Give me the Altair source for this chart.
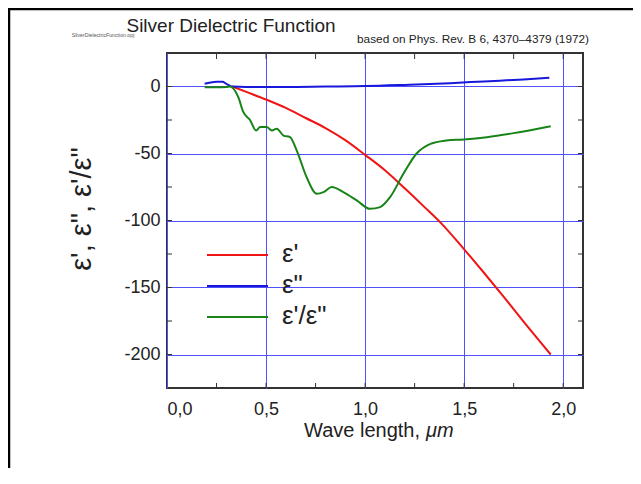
import altair as alt
import pandas as pd

# ---- data ----
series_names = ["ε'", "ε\"", "ε'/ε\""]
series_colors = ["#f01414", "#1818dc", "#188418"]

eps1_x = [0.33, 0.4, 0.5, 0.6, 0.7, 0.8, 0.9, 1.0, 1.1, 1.2, 1.3, 1.387, 1.5, 1.6, 1.7, 1.8, 1.937]
eps1_y = [0, -4, -9.7, -16, -23.5, -31, -40, -51, -62.5, -76, -90, -102.5, -121.5, -139, -157, -175.5, -200]

eps2_x = [0.19, 0.22, 0.25, 0.28, 0.3, 0.33, 0.4, 0.6, 0.8, 1.0, 1.2, 1.43, 1.6, 1.8, 1.93]
eps2_y = [2, 3, 3.5, 3.5, 2, 0, -0.3, -0.3, 0, 0.3, 1.2, 2.5, 3.8, 5.3, 6.5]

ratio_x = [0.19, 0.25, 0.3, 0.318, 0.36, 0.385, 0.419, 0.45, 0.47, 0.503, 0.529, 0.554, 0.588,
           0.621, 0.655, 0.705, 0.756, 0.79, 0.832, 0.89, 0.958, 1.025, 1.076, 1.126, 1.194,
           1.26, 1.33, 1.41, 1.497, 1.615, 1.75, 1.937]
ratio_y = [-0.5, -0.5, -0.3, 0, -8, -19, -25, -32.8, -30.3, -30.3, -32.8, -31.6, -36.6,
           -37.8, -47.8, -67.7, -80, -78.8, -75, -78.8, -85, -91.3, -90, -82.6, -65,
           -50, -42.8, -40.3, -39.5, -37.8, -34.8, -29.6]

x_major = [0, 0.5, 1.0, 1.5, 2.0]
y_major = [0, -50, -100, -150, -200]
x_minor = [0.25, 0.5, 0.75, 1.0, 1.25, 1.5, 1.75, 2.0]
y_minor = [0, -25, -50, -75, -100, -125, -150, -175, -200]

title_text = "Silver Dielectric Function"
source_text = "based on Phys. Rev. B 6, 4370–4379 (1972)"
file_text = "SilverDielectricFunction.opj"
x_title_a = "Wave length,"
x_title_b = "μm"
y_title = "ε', ε\", ε'/ε\""

# ---- build table ----
rows = []
for name, xs, ys in [(series_names[0], eps1_x, eps1_y),
                     (series_names[1], eps2_x, eps2_y),
                     (series_names[2], ratio_x, ratio_y)]:
    for i, (xv, yv) in enumerate(zip(xs, ys)):
        rows.append({"series": name, "wl": xv, "val": yv, "ord": i})
df = pd.DataFrame(rows)

W, H = 416, 335
FONT = "Liberation Sans"
GRID = "#5050ff"
INK = "#222222"

xscale = alt.Scale(domain=[0, 2.1], nice=False, zero=False)
yscale = alt.Scale(domain=[-225, 25], nice=False, zero=False)
cscale = alt.Scale(domain=series_names, range=series_colors)

x_axis = alt.Axis(values=x_major, title=None, grid=True, gridColor=GRID, gridWidth=1,
                  ticks=False, tickSize=0, domain=False, labelFont=FONT, labelFontSize=18,
                  labelColor=INK, labelPadding=12,
                  labelExpr="replace(format(datum.value, '.1f'), '.', ',')")
y_axis = alt.Axis(values=y_major, title=None, grid=True, gridColor=GRID, gridWidth=1,
                  ticks=False, tickSize=0, domain=False, labelFont=FONT, labelFontSize=18,
                  labelColor=INK, labelPadding=7, labelExpr="'' + datum.value")

lines = alt.Chart(df).mark_line(strokeWidth=2, interpolate="monotone", clip=True).encode(
    x=alt.X("wl:Q", scale=xscale, axis=x_axis),
    y=alt.Y("val:Q", scale=yscale, axis=y_axis),
    color=alt.Color("series:N", sort=series_names, scale=cscale, legend=None),
    order="ord:Q",
)

xt = pd.DataFrame({"wl": x_minor})
yt = pd.DataFrame({"val": y_minor})
tick_style = dict(color="#333333", strokeWidth=1)

ticks_bottom = alt.Chart(xt).mark_rule(**tick_style).encode(
    x=alt.X("wl:Q", scale=xscale, axis=x_axis), y=alt.value(H), y2=alt.value(H - 5))
ticks_top = alt.Chart(xt).mark_rule(**tick_style).encode(
    x=alt.X("wl:Q", scale=xscale, axis=x_axis), y=alt.value(0), y2=alt.value(6))
ticks_left = alt.Chart(yt).mark_rule(**tick_style).encode(
    y=alt.Y("val:Q", scale=yscale, axis=y_axis), x=alt.value(0), x2=alt.value(5))
ticks_right = alt.Chart(yt).mark_rule(**tick_style).encode(
    y=alt.Y("val:Q", scale=yscale, axis=y_axis), x=alt.value(W), x2=alt.value(W - 5))

one = pd.DataFrame({"a": [0]})

frame_top = alt.Chart(one).mark_rule(color="black", strokeWidth=2.5).encode(
    x=alt.value(-170), x2=alt.value(480), y=alt.value(-44))
frame_left = alt.Chart(one).mark_rule(color="black", strokeWidth=2.5).encode(
    x=alt.value(-158), y=alt.value(-46), y2=alt.value(430))

def label(text, x, y, size, align="left", baseline="alphabetic", **kw):
    return alt.Chart(one).mark_text(text=text, font=FONT, fontSize=size, align=align,
                                    baseline=baseline, color=kw.pop("color", INK), **kw).encode(
        x=alt.value(x), y=alt.value(y))

# legend drawn inside the plot, one row per series
legend_layers = []
LEG_X, LEG_Y, LEG_STEP = 40, 202, 31
for i, name in enumerate(series_names):
    ldf = pd.DataFrame({"series": [name]})
    yy = LEG_Y + LEG_STEP * i
    legend_layers.append(
        alt.Chart(ldf).mark_rule(strokeWidth=2).encode(
            x=alt.value(LEG_X), x2=alt.value(LEG_X + 61), y=alt.value(yy),
            color=alt.Color("series:N", scale=cscale, legend=None)))
    legend_layers.append(
        alt.Chart(ldf).mark_text(font=FONT, fontSize=26, align="left", baseline="middle",
                                 color=INK, dy=-1).encode(
            x=alt.value(LEG_X + 75), y=alt.value(yy), text="series:N"))

t_title = label(title_text, 64, -21, 19, align="center")
t_source = label(source_text, 422, -10, 11.8, align="right")
t_file = label(file_text, -64, -16, 5.2, align="center", color="#555555")
t_xa = label(x_title_a, 253, 384, 20, align="right")
t_xb = label(x_title_b, 259, 384, 20, align="left", fontStyle="italic")
t_y = label(y_title, -85, 156, 29, align="center", baseline="middle", angle=270)

chart = alt.layer(
    lines, ticks_bottom, ticks_top, ticks_left, ticks_right,
    frame_top, frame_left, *legend_layers, t_title, t_source, t_file, t_xa, t_xb, t_y,
).properties(
    width=W, height=H,
    padding={"left": 159, "top": 45, "right": 50, "bottom": 80},
    autosize=alt.AutoSizeParams(type="none"),
    background="white",
).configure_view(stroke="#333333", strokeWidth=2)

chart.save("out.html", embed_options={"renderer": "svg", "actions": False})
